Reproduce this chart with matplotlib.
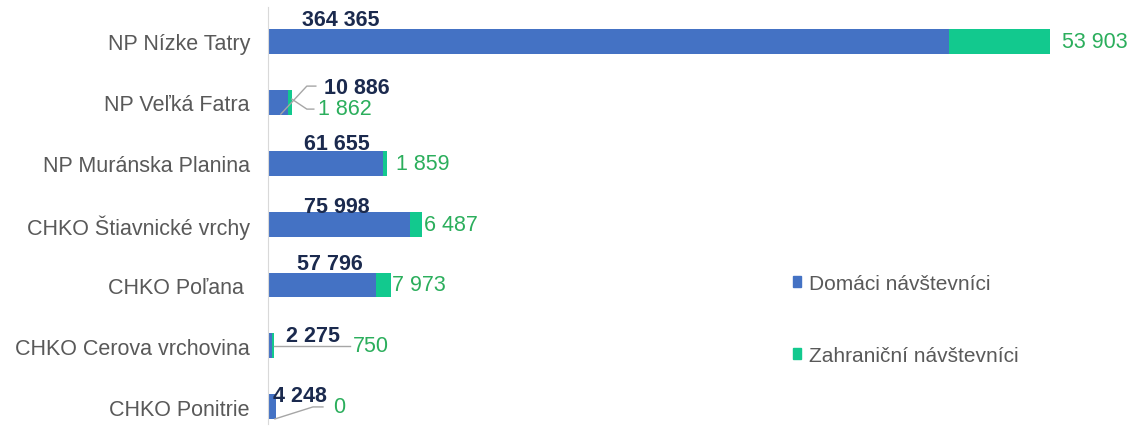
import matplotlib
matplotlib.use('Agg')
import numpy as np
import matplotlib.pyplot as plt
from matplotlib.lines import Line2D
from matplotlib.patches import Patch

plt.rcParams['font.family'] = ['Liberation Sans', 'DejaVu Sans']

categories = ["NP Nízke Tatry", "NP Veľká Fatra", "NP Muránska Planina",
              "CHKO Štiavnické vrchy", "CHKO Poľana ", "CHKO Cerova vrchovina",
              "CHKO Ponitrie"]
domestic = [364365, 10886, 61655, 75998, 57796, 2275, 4248]
foreign = [53903, 1862, 1859, 6487, 7973, 750, 0]

# label placement, pixel offsets (dx, dy): domestic from bar base, foreign from bar end
dom_off = [(73, 22), (89, 15), (69, 20), (69, 18), (62, 21), (45, 10), (32, 11)]
for_off = [(12, 0), (26, -6), (9, 0), (2, 0), (1, 0), (79, 0), (57, 0)]

blue = '#4472C4'
green = '#12C98E'
navy = '#1B2A4E'
txtgreen = '#2BAE5C'
grey = '#595959'
fs = 15.5

fig = plt.figure(figsize=(11.33, 4.27), dpi=100)
ax = fig.add_axes([268 / 1133, 2 / 427, (1120 - 268) / 1133, 417 / 427])
y = np.arange(len(categories))
b1 = ax.barh(y, domestic, height=0.41, color=blue)
b2 = ax.barh(y, foreign, left=domestic, height=0.41, color=green)
ax.set_xlim(0, 456000)
ax.set_ylim(6.28, -0.56)
ax.set_yticks(y)
ax.set_yticklabels(categories, fontsize=fs, color=grey)
ax.tick_params(axis='y', length=0, pad=13)
ax.set_xticks([])
for s in ['top', 'right', 'bottom']:
    ax.spines[s].set_visible(False)
ax.spines['left'].set_color('#D9D9D9')

def fmt(v):
    return f"{v:,}".replace(",", " ")

for i in range(len(categories)):
    ax.annotate(fmt(domestic[i]), (0, i), xytext=dom_off[i], textcoords='offset pixels',
                ha='center', va='center', fontsize=fs, fontweight='bold', color=navy)
    ax.annotate(fmt(foreign[i]), (domestic[i] + foreign[i], i), xytext=for_off[i],
                textcoords='offset pixels', ha='left', va='center', fontsize=fs,
                color=txtgreen)

# leader lines (pixel offsets from bar end)
leaders = {1: [[(-11, -12), (15, 16), (24, 16)], [(0, 3), (15, -7), (22, -7)]],
           5: [[(0, 0), (76, 0)]],
           6: [[(-1, -12), (37, 0), (47, 0)]]}
for i, lines in leaders.items():
    ax_, ay_ = ax.transData.transform((domestic[i] + foreign[i], i))
    for pts in lines:
        xs = [ax_ + p[0] for p in pts]
        ys = [ay_ + p[1] for p in pts]
        fig.add_artist(Line2D(xs, ys, transform=None, color='#A6A6A6', lw=1))

handles = [Patch(color=blue), Patch(color=green)]
fig.legend(handles, ["Domáci návštevníci", "Zahraniční návštevníci"],
           loc='upper left', bbox_to_anchor=(774 / 1133, 1 - 256 / 427), frameon=False,
           fontsize=15, labelcolor=grey, handlelength=0.4, handleheight=0.4,
           handletextpad=0.4, labelspacing=2.55)

plt.savefig('out.png', dpi=100)
